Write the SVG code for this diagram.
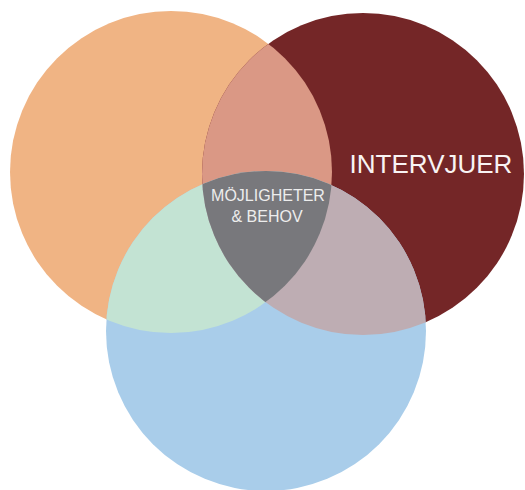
<svg xmlns="http://www.w3.org/2000/svg" width="525" height="490" viewBox="0 0 525 490">
<style>
.lbl{font-family:"Liberation Sans",Arial,sans-serif;text-anchor:middle}
</style>
<defs>
<clipPath id="cO"><circle cx="171" cy="172" r="161"/></clipPath>
<clipPath id="cR"><circle cx="363" cy="174" r="161"/></clipPath>
<clipPath id="cB"><circle cx="266" cy="331" r="160"/></clipPath>
</defs>
<rect width="525" height="490" fill="#ffffff"/>
<g id="orange"><circle cx="171" cy="172" r="161" fill="#F0B484"/></g>
<g id="red"><circle cx="363" cy="174" r="161" fill="#742627"/></g>
<g id="blue"><circle cx="266" cy="331" r="160" fill="#A9CDEA"/></g>
<g id="orange-red" clip-path="url(#cO)"><circle cx="363" cy="174" r="161" fill="#DA9885"/></g>
<g id="orange-blue" clip-path="url(#cO)"><circle cx="266" cy="331" r="160" fill="#C3E3D3"/></g>
<g id="red-blue" clip-path="url(#cR)"><circle cx="266" cy="331" r="160" fill="#BEADB3"/></g>
<g id="center" clip-path="url(#cO)"><g clip-path="url(#cR)"><circle cx="266" cy="331" r="160" fill="#78787C"/></g></g>
<g id="label-intervjuer"><text class="lbl" x="431" y="173" font-size="26" fill="#F8F4F4">INTERVJUER</text></g>
<g id="label-center"><text class="lbl" x="268" y="201" font-size="16" fill="#EDEDED">MÖJLIGHETER</text><text class="lbl" x="267" y="222" font-size="16" fill="#EDEDED">&amp; BEHOV</text></g>
<g id="connectors"/>
</svg>
